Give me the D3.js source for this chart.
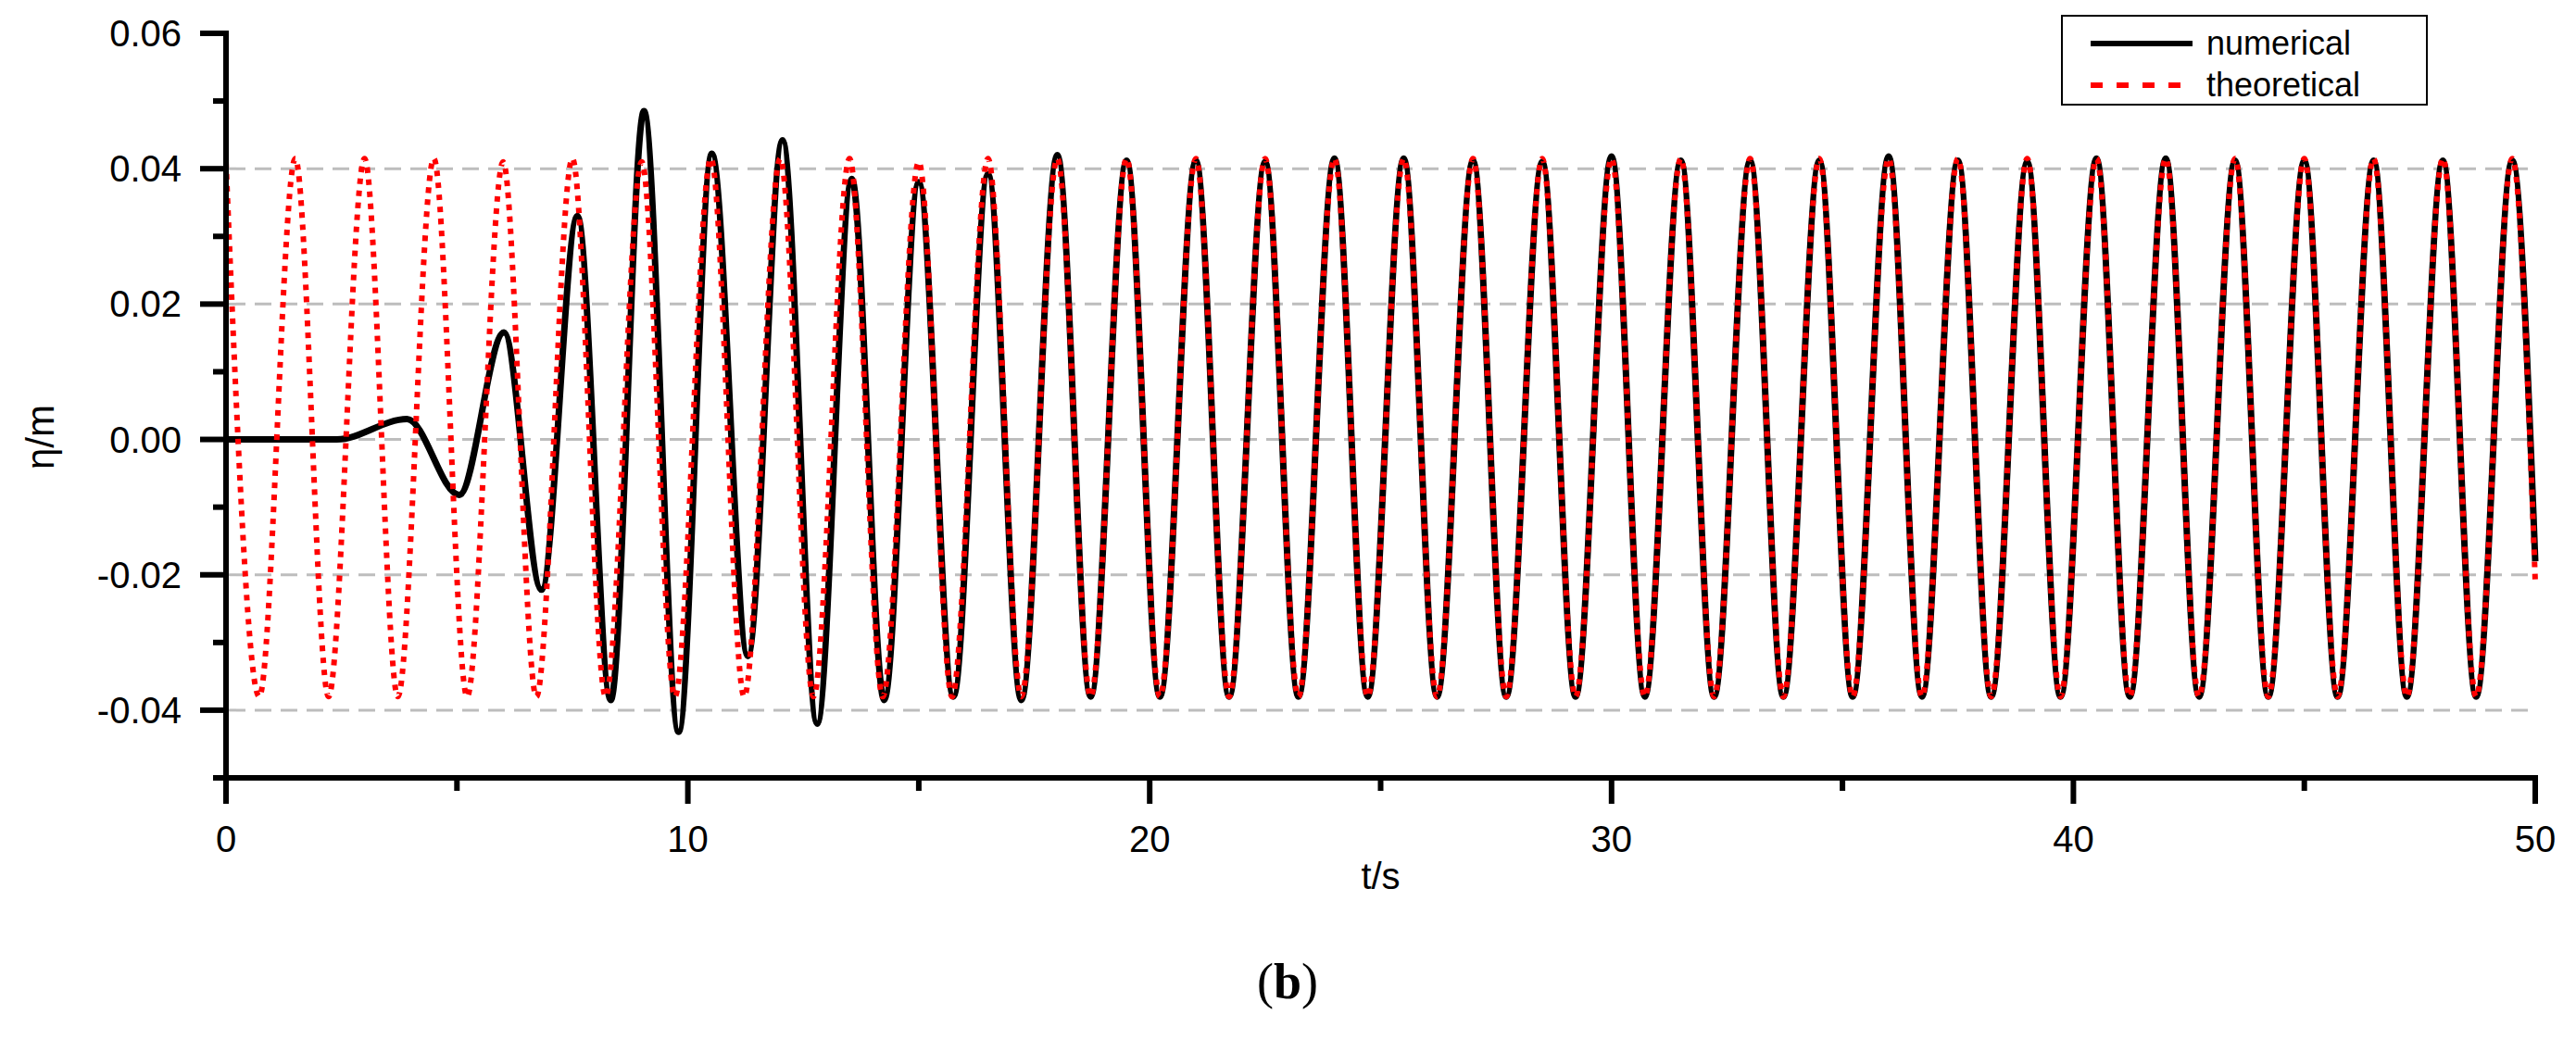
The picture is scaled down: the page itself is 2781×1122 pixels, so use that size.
<!DOCTYPE html>
<html><head><meta charset="utf-8">
<script src="https://cdn.jsdelivr.net/npm/d3@7"></script>
<style>body{margin:0;background:#fff}</style>
</head><body>
<script>
// extrema of the theoretical wave (t in s, eta in m)
var theoryT = [0,0.72,1.5,2.22,3,3.72,4.5,5.22,6,6.72,7.5,8.22,9,9.72,10.5,11.22,12,12.72,13.5,14.22,15,15.72,16.5,17.22,18,18.72,19.5,20.22,21,21.72,22.5,23.22,24,24.72,25.5,26.22,27,27.72,28.5,29.22,30,30.72,31.5,32.22,33,33.72,34.5,35.22,36,36.72,37.5,38.22,39,39.72,40.5,41.22,42,42.72,43.5,44.22,45,45.72,46.5,47.22,48,48.72,49.5,50];
var theoryV = [0.0410,-0.0380,0.0415,-0.0380,0.0415,-0.0380,0.0415,-0.0380,0.0410,-0.0380,0.0415,-0.0380,0.0410,-0.0380,0.0415,-0.0380,0.0415,-0.0380,0.0415,-0.0380,0.0410,-0.0380,0.0415,-0.0380,0.0415,-0.0380,0.0415,-0.0380,0.0415,-0.0380,0.0415,-0.0380,0.0415,-0.0380,0.0415,-0.0380,0.0415,-0.0380,0.0415,-0.0380,0.0415,-0.0380,0.0415,-0.0380,0.0415,-0.0380,0.0415,-0.0380,0.0415,-0.0380,0.0415,-0.0380,0.0415,-0.0380,0.0415,-0.0380,0.0415,-0.0380,0.0415,-0.0380,0.0415,-0.0380,0.0415,-0.0380,0.0415,-0.0380,0.0415,-0.0210];
var numT = [0,2.4,3.92,5.05,6.02,6.83,7.61,8.33,9.05,9.8,10.52,11.3,12.05,12.8,13.55,14.25,15.0,15.75,16.5,17.22,18,18.72,19.5,20.22,21,21.72,22.5,23.22,24,24.72,25.5,26.22,27,27.72,28.5,29.22,30,30.72,31.5,32.22,33,33.72,34.5,35.22,36,36.72,37.5,38.22,39,39.72,40.5,41.22,42,42.72,43.5,44.22,45,45.72,46.5,47.22,48,48.72,49.5,50];
var numV = [0,0,0.0030,-0.0082,0.0158,-0.0222,0.0330,-0.0385,0.0485,-0.0432,0.0422,-0.0320,0.0442,-0.0420,0.0385,-0.0385,0.0380,-0.0380,0.0392,-0.0385,0.0420,-0.0380,0.0412,-0.0380,0.0412,-0.0380,0.0410,-0.0380,0.0415,-0.0380,0.0415,-0.0380,0.0412,-0.0380,0.0410,-0.0380,0.0418,-0.0380,0.0412,-0.0380,0.0412,-0.0380,0.0412,-0.0380,0.0418,-0.0380,0.0412,-0.0380,0.0410,-0.0380,0.0415,-0.0380,0.0415,-0.0380,0.0412,-0.0380,0.0412,-0.0380,0.0412,-0.0380,0.0412,-0.0380,0.0412,-0.0180];
var xTicks = [0,10,20,30,40,50];
var xMinor = [5,15,25,35,45];
var yTicks = [-0.04,-0.02,0,0.02,0.04,0.06];
var yMinor = [-0.05,-0.03,-0.01,0.01,0.03,0.05];
var gridY = [-0.04,-0.02,0,0.02,0.04];

var W = 2781, H = 1122;
var svg = d3.select("body").append("svg").attr("width", W).attr("height", H);
var x = d3.scaleLinear().domain([0, 50]).range([244, 2737]);
var y = d3.scaleLinear().domain([-0.05, 0.06]).range([840, 36]);
var font = "Liberation Sans, Arial, sans-serif";

svg.selectAll("line.grid").data(gridY).enter().append("line")
  .attr("x1", 247).attr("x2", 2737)
  .attr("y1", function(d){return y(d);}).attr("y2", function(d){return y(d);})
  .attr("stroke", "#bdbdbd").attr("stroke-width", 3).attr("stroke-dasharray", "18,10");

var line = d3.line().curve(d3.curveMonotoneX)
  .x(function(d){return x(d[0]);}).y(function(d){return y(d[1]);});
var numData = numT.map(function(t, i){return [t, numV[i]];});
var thData = theoryT.map(function(t, i){return [t, theoryV[i]];});

svg.append("path").attr("d", line(numData)).attr("fill", "none")
  .attr("stroke", "#000").attr("stroke-width", 7);
svg.append("path").attr("d", line(thData)).attr("fill", "none")
  .attr("stroke", "#ff0000").attr("stroke-width", 6).attr("stroke-dasharray", "6,7");

// axes
var ga = svg.append("g");
ga.append("line").attr("x1", 244).attr("x2", 244).attr("y1", 33).attr("y2", 868)
  .attr("stroke", "#000").attr("stroke-width", 6);
ga.append("line").attr("x1", 230).attr("x2", 2740).attr("y1", 840).attr("y2", 840)
  .attr("stroke", "#000").attr("stroke-width", 6);
ga.selectAll("line.ymaj").data(yTicks).enter().append("line")
  .attr("x1", 216).attr("x2", 244).attr("y1", function(d){return y(d);}).attr("y2", function(d){return y(d);})
  .attr("stroke", "#000").attr("stroke-width", 6);
ga.selectAll("line.ymin").data(yMinor).enter().append("line")
  .attr("x1", 230).attr("x2", 244).attr("y1", function(d){return y(d);}).attr("y2", function(d){return y(d);})
  .attr("stroke", "#000").attr("stroke-width", 6);
ga.selectAll("text.yl").data(yTicks).enter().append("text")
  .attr("x", 196).attr("y", function(d){return y(d) + 14;})
  .attr("text-anchor", "end").attr("font-family", font).attr("font-size", 40)
  .text(function(d){return d3.format(".2f")(d).replace("−", "-");});
ga.selectAll("line.xmaj").data(xTicks).enter().append("line")
  .attr("x1", function(d){return x(d);}).attr("x2", function(d){return x(d);})
  .attr("y1", 840).attr("y2", 868).attr("stroke", "#000").attr("stroke-width", 6);
ga.selectAll("line.xmin").data(xMinor).enter().append("line")
  .attr("x1", function(d){return x(d);}).attr("x2", function(d){return x(d);})
  .attr("y1", 840).attr("y2", 854).attr("stroke", "#000").attr("stroke-width", 6);
ga.selectAll("text.xl").data(xTicks).enter().append("text")
  .attr("x", function(d){return x(d);}).attr("y", 920)
  .attr("text-anchor", "middle").attr("font-family", font).attr("font-size", 40)
  .text(function(d){return d;});

svg.append("text").attr("x", x(25)).attr("y", 960).attr("text-anchor", "middle")
  .attr("font-family", font).attr("font-size", 40).text("t/s");
svg.append("text").attr("transform", "translate(58,472) rotate(-90)").attr("text-anchor", "middle")
  .attr("font-family", font).attr("font-size", 42).text("η/m");
svg.append("text").attr("x", 1390).attr("y", 1078).attr("text-anchor", "middle")
  .attr("font-family", "Liberation Serif, Times New Roman, serif").attr("font-size", 54)
  .html('(<tspan font-weight="bold">b</tspan>)');

// legend
var lg = svg.append("g");
lg.append("rect").attr("x", 2226).attr("y", 17).attr("width", 394).attr("height", 96)
  .attr("fill", "#fff").attr("stroke", "#000").attr("stroke-width", 2);
lg.append("line").attr("x1", 2257).attr("x2", 2367).attr("y1", 47).attr("y2", 47)
  .attr("stroke", "#000").attr("stroke-width", 6);
lg.append("line").attr("x1", 2257).attr("x2", 2367).attr("y1", 92).attr("y2", 92)
  .attr("stroke", "#ff0000").attr("stroke-width", 6).attr("stroke-dasharray", "13,15");
lg.append("text").attr("x", 2382).attr("y", 59).attr("font-family", font).attr("font-size", 36).text("numerical");
lg.append("text").attr("x", 2382).attr("y", 104).attr("font-family", font).attr("font-size", 36).text("theoretical");
</script>
</body></html>
